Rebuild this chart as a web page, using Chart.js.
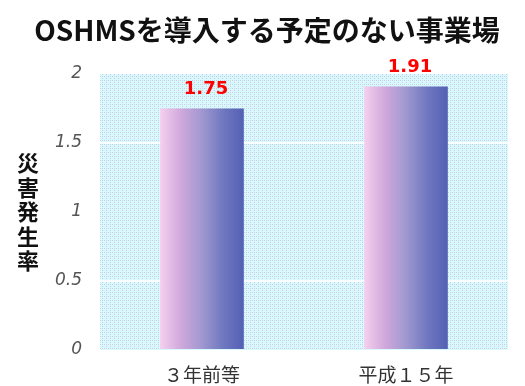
<!DOCTYPE html>
<html lang="ja">
<head>
<meta charset="utf-8">
<script src="https://cdn.jsdelivr.net/npm/chart.js@4/dist/chart.umd.min.js"></script>
<style>
  html, body { margin: 0; padding: 0; background: #fff; }
  #wrap { width: 525px; height: 386px; position: relative; }
</style>
</head>
<body>
<div id="wrap"><canvas id="Chart" width="525" height="386"></canvas></div>
<script>
const chartTitle = 'OSHMSを導入する予定のない事業場';
const yTitle = '災害発生率';
const categories = ['３年前等', '平成１５年'];
const rates = [1.75, 1.91];
const yTicks = [0, 0.5, 1, 1.5, 2];
const jpFont = '"Noto Sans CJK JP", "Noto Sans", sans-serif';

// small tile for the dotted plot background
function makeDots() {
    let c = document.createElement('canvas');
    c.width = 4; c.height = 4;
    let g = c.getContext('2d');
    g.fillStyle = '#d8fafc';
    g.fillRect(0, 0, 4, 4);
    g.fillStyle = '#c8c8f0';
    g.fillRect(0, 0, 1, 1);
    g.fillRect(2, 2, 1, 1);
    g.fillStyle = '#ccd4dc';
    g.fillRect(2, 0, 1, 1);
    g.fillStyle = '#e0f0f8';
    g.fillRect(0, 2, 1, 1);
    return c;
}

let ctx = document.getElementById('Chart').getContext('2d');
let dotPattern = ctx.createPattern(makeDots(), 'repeat');

const plotBg = {
    id: 'plotBg',
    beforeDraw(chart) {
        let a = chart.chartArea;
        let c = chart.ctx;
        c.save();
        c.fillStyle = dotPattern;
        c.fillRect(a.left, a.top, a.right - a.left, a.bottom - a.top);
        c.restore();
    }
};

const texts = {
    id: 'texts',
    afterDraw(chart) {
        let c = chart.ctx;
        c.save();
        c.fillStyle = '#111';
        c.textAlign = 'center';
        c.textBaseline = 'middle';
        c.font = 'bold 28px ' + jpFont;
        c.fillText(chartTitle, 267, 30);
        // vertical axis title, one character per row
        c.font = 'bold 22px ' + jpFont;
        [...yTitle].forEach((ch, i) => c.fillText(ch, 28, 163 + i * 24.5));
        c.restore();
    }
};

const valueLabels = {
    id: 'valueLabels',
    afterDatasetsDraw(chart) {
        let c = chart.ctx;
        let meta = chart.getDatasetMeta(0);
        c.save();
        c.fillStyle = '#ff0000';
        c.font = 'bold 18px "DejaVu Sans", sans-serif';
        c.textAlign = 'center';
        c.textBaseline = 'bottom';
        meta.data.forEach((bar, i) => {
            c.fillText(rates[i].toFixed(2), bar.x + 4, bar.y - 10);
        });
        c.restore();
    }
};

function barFill(context) {
    let chart = context.chart;
    let x = chart.scales.x;
    if (!x || !chart.chartArea) return '#a098d0';
    let mid = x.getPixelForValue(context.dataIndex);
    let half = (x.width / categories.length) * 0.41 / 2;
    let g = chart.ctx.createLinearGradient(mid - half, 0, mid + half, 0);
    g.addColorStop(0, '#f6d0ee');
    g.addColorStop(0.25, '#d0a8dc');
    g.addColorStop(0.5, '#a098d0');
    g.addColorStop(0.75, '#7078c0');
    g.addColorStop(1, '#5460b4');
    return g;
}

new Chart(ctx, {
    type: 'bar',
    data: {
        labels: categories,
        datasets: [{
            data: rates,
            backgroundColor: barFill,
            borderWidth: 0,
            barPercentage: 0.41,
            categoryPercentage: 1
        }]
    },
    plugins: [plotBg, texts, valueLabels],
    options: {
        responsive: false,
        animation: false,
        layout: { padding: { top: 74, right: 17, bottom: 0, left: 0 } },
        plugins: {
            legend: { display: false },
            title: { display: false },
            tooltip: { enabled: false }
        },
        scales: {
            x: {
                grid: { display: false },
                border: { display: false },
                ticks: {
                    padding: 5,
                    color: '#333',
                    font: { family: jpFont, size: 19 }
                },
                afterFit: s => { s.height = 36; }
            },
            y: {
                min: 0,
                max: 2,
                afterBuildTicks: s => { s.ticks = yTicks.map(v => ({ value: v })); },
                border: { display: false },
                grid: {
                    drawTicks: false,
                    lineWidth: 2,
                    color: c => (c.tick && (c.tick.value === 0.5 || c.tick.value === 1.5)) ? 'rgba(255,255,255,0.85)' : 'rgba(0,0,0,0)'
                },
                ticks: {
                    padding: 18,
                    color: '#555',
                    callback: v => String(v),
                    font: { family: '"DejaVu Sans", sans-serif', size: 17, style: 'italic' }
                },
                afterFit: s => { s.width = 100; }
            }
        }
    }
});
</script>
</body>
</html>
